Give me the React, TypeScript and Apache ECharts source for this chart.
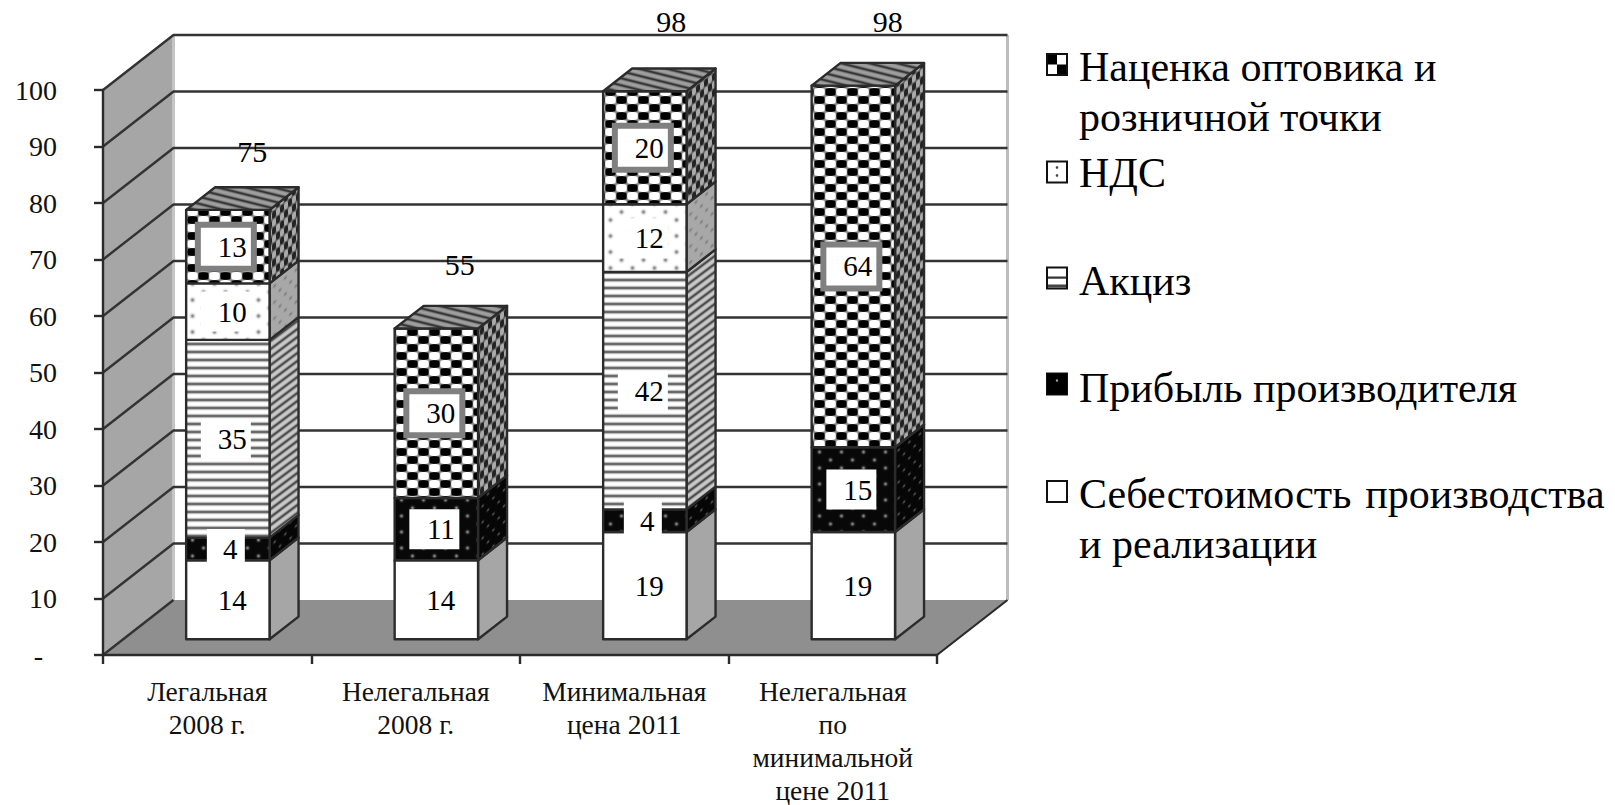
import React, { useEffect, useRef } from "react";
import * as echarts from "echarts";

const categories = ["Легальная\n2008 г.", "Нелегальная\n2008 г.", "Минимальная\nцена 2011", "Нелегальная\nпо\nминимальной\nцене 2011"];
const costValues = [14, 14, 19, 19];
const profitValues = [4, 11, 4, 15];
const exciseValues = [35, 0, 42, 0];
const vatValues = [10, 0, 12, 0];
const markupValues = [13, 30, 20, 64];
const totalLabels = [75, 55, 98, 98];
const yTicks = [0, 10, 20, 30, 40, 50, 60, 70, 80, 90, 100];
const legendMarkup = ["Наценка оптовика и", "розничной точки"];
const legendVat = ["НДС"];
const legendExcise = ["Акциз"];
const legendProfit = ["Прибыль производителя"];
const legendCost = ["Себестоимость \u200Aпроизводства", "и реализации"];

const SERIF = "'Liberation Serif'";
const DEPTH_X = 70.5, DEPTH_Y = 55;
const SIDE_X = 29, SIDE_Y = 22.7;
const BAR_DX = 20.6, BAR_DY = 15.7, BAR_W = 83.4;
const TOTAL_DX = [45, 44, 47, 55];
const INK = "#2b2b2b";

type Fn = (x: number, y: number) => number;
function tile(w: number, h: number, fn: Fn) {
  const c = document.createElement("canvas");
  c.width = w; c.height = h;
  const ctx = c.getContext("2d")!;
  const img = ctx.createImageData(w, h);
  for (let y = 0; y < h; y++) for (let x = 0; x < w; x++) {
    const g = fn(x + 0.5, y + 0.5);
    const i = (y * w + x) * 4;
    img.data[i] = img.data[i + 1] = img.data[i + 2] = Math.max(0, Math.min(255, g));
    img.data[i + 3] = 255;
  }
  ctx.putImageData(img, 0, 0);
  return c;
}
const TAU = Math.PI * 2;
const clamp01 = (v: number) => Math.max(0, Math.min(1, v));
const mod = (a: number, b: number) => ((a % b) + b) % b;
const K = 0.75;
function dotField(u: number, v: number, pu: number, pv: number, r: number) {
  const dist = (cx: number, cy: number) => {
    const dx = mod(u - cx + pu / 2, pu) - pu / 2, dy = mod(v - cy + pv / 2, pv) - pv / 2;
    return Math.exp(-(dx * dx + dy * dy) / (r * r));
  };
  return Math.max(dist(pu / 4, pv / 4), dist((3 * pu) / 4, (3 * pv) / 4));
}
const band = (y: number, p: number, w: number) => {
  const d = mod(y + p / 2, p) - p / 2;
  return Math.exp(-(d * d) / (w * w));
};
function buildPatterns() {
  const mk = (c: HTMLCanvasElement) => ({ image: c, repeat: "repeat", imageWidth: c.width, imageHeight: c.height });
  return {
    checkerFront: mk(tile(22, 16, (x, y) => 255 * clamp01(0.55 - 2.4 * Math.sin((TAU * x) / 22) * Math.sin((TAU * y) / 16)))),
    checkerSide: mk(tile(64, 16, (x, y) => 35 + 135 * clamp01(0.5 - 1.4 * Math.sin((TAU * x) / 8) * Math.sin((TAU * (y + K * x)) / 16)))),
    stripeFront: mk(tile(8, 8, (_x, y) => 255 - 165 * band(y, 8, 1.6))),
    stripeSide: mk(tile(32, 8, (x, y) => 205 - 135 * band(y + K * x, 8, 1.8))),
    dotsWhiteFront: mk(tile(22, 16, (x, y) => 255 - 125 * dotField(x, y, 22, 16, 2))),
    dotsGreySide: mk(tile(64, 16, (x, y) => 168 - 45 * dotField(x, y + K * x, 64 / 6, 16, 1.5))),
    dotsBlackFront: mk(tile(22, 16, (x, y) => 8 + 135 * dotField(x, y, 22, 16, 1.7))),
    dotsBlackSide: mk(tile(64, 16, (x, y) => 6 + 80 * dotField(x, y + K * x, 64 / 6, 16, 1.3))),
    topStripes: mk(tile(28, 7, (x, y) => 160 - 110 * band(y - 0.25 * x, 7, 1.5))),
  };
}

function stackOf(rows: number[][], idx: number) {
  return rows[idx].map((v, i) => {
    let start = 0;
    for (let k = 0; k < idx; k++) start += rows[k][i];
    const hasAbove = rows.slice(idx + 1).some((r) => r[i] > 0);
    return [i, start, start + v, v, hasAbove ? 0 : 1];
  }).filter((d) => d[3] > 0);
}

export default function App() {
  const ref = useRef<HTMLDivElement>(null);
  useEffect(() => {
    const chart = echarts.init(ref.current!, undefined, { renderer: "svg" });
    const P = buildPatterns();
    const rows = [costValues, profitValues, exciseValues, vatValues, markupValues];

    const segment = (front: any, side: any) => (params: any, api: any) => {
      const c0 = api.coord([api.value(0), api.value(1)]);
      const c1 = api.coord([api.value(0), api.value(2)]);
      const isTop = api.value(4) === 1;
      const x0 = c0[0] + BAR_DX - BAR_W / 2, x1 = x0 + BAR_W;
      const b = c0[1] - BAR_DY, t = c1[1] - BAR_DY;
      const line = { stroke: INK, lineWidth: 2.4, lineJoin: "round" };
      const children: any[] = [
        { type: "polygon", shape: { points: [[x1, t], [x1 + SIDE_X, t - SIDE_Y], [x1 + SIDE_X, b - SIDE_Y], [x1, b]] }, style: { fill: typeof side === "string" ? side : { ...side, x: x1, y: t }, ...line } },
        { type: "rect", shape: { x: x0, y: t, width: BAR_W, height: b - t }, style: { fill: typeof front === "string" ? front : { ...front, x: x0, y: t }, ...line } },
      ];
      if (isTop) {
        children.push({ type: "polygon", shape: { points: [[x0, t], [x1, t], [x1 + SIDE_X, t - SIDE_Y], [x0 + SIDE_X, t - SIDE_Y]] }, style: { fill: { ...P.topStripes, x: x0, y: t }, ...line } });
      }
      return { type: "group", children };
    };

    const makeSeries = (name: string, idx: number, front: any, side: any) => ({
      type: "custom", name, renderItem: segment(front, side), data: stackOf(rows, idx),
      encode: { x: 0, y: [1, 2] }, z: 3 + idx, silent: true,
    });

    const labelData = rows.flatMap((_, idx) => stackOf(rows, idx).map((d) => [d[0], d[1], d[2], d[3], idx === rows.length - 1 ? 1 : 0]));

    const marker = (y: number, inner: any[]) => ({
      type: "group", x: 1046, y,
      children: [
        { type: "rect", shape: { x: 1, y: 1, width: 20, height: 21 }, style: { fill: "#fff", stroke: "#111", lineWidth: 2 } },
        ...inner,
      ],
    });
    const legendText = (lines: string[], y: number) => lines.map((text, i) => ({
      type: "text", x: 1079, y: y + i * 49.5,
      style: { text, font: `42px ${SERIF}`, fill: "#000", verticalAlign: "middle" },
    }));

    chart.setOption({
      animation: false,
      backgroundColor: "#fff",
      grid: { left: 103, right: 678, top: 90, bottom: 150, containLabel: false, outerBoundsMode: "none" },
      xAxis: {
        type: "category", data: categories, z: 20,
        axisLine: { show: true, lineStyle: { color: INK, width: 2.4 } },
        axisTick: { show: true, length: 9, lineStyle: { color: INK, width: 2.4 }, alignWithLabel: false, interval: 0 },
        axisLabel: { fontFamily: SERIF, fontSize: 27.5, color: "#111", margin: 20, lineHeight: 33, interval: 0, hideOverlap: false },
      },
      yAxis: {
        type: "value", min: 0, max: 100, interval: 10, z: 20,
        axisLine: { show: true, lineStyle: { color: INK, width: 2.4 } },
        axisTick: { show: true, length: 9, lineStyle: { color: INK, width: 2.4 } },
        splitLine: { show: false },
        axisLabel: { fontFamily: SERIF, fontSize: 28, color: "#111", margin: 46, formatter: (v: number) => (v === 0 ? "-\u00A0\u00A0" : String(v)) },
      },
      graphic: {
        elements: [
          marker(53, [
            { type: "rect", shape: { x: 2, y: 2, width: 9, height: 9.5 }, style: { fill: "#000" } },
            { type: "rect", shape: { x: 11, y: 11.5, width: 9, height: 9.5 }, style: { fill: "#000" } },
          ]),
          ...legendText(legendMarkup, 67),
          marker(160.5, [
            { type: "circle", shape: { cx: 11, cy: 7, r: 1.3 }, style: { fill: "#444" } },
            { type: "circle", shape: { cx: 11, cy: 15, r: 1.3 }, style: { fill: "#444" } },
          ]),
          ...legendText(legendVat, 173),
          marker(266.5, [
            { type: "rect", shape: { x: 2, y: 10, width: 18, height: 2.2 }, style: { fill: "#333" } },
            { type: "rect", shape: { x: 2, y: 18, width: 18, height: 3 }, style: { fill: "#444" } },
          ]),
          ...legendText(legendExcise, 281),
          marker(372.5, [
            { type: "rect", shape: { x: 1, y: 1, width: 20, height: 21 }, style: { fill: "#000" } },
            { type: "circle", shape: { cx: 11, cy: 8, r: 1.2 }, style: { fill: "#aaa" } },
          ]),
          ...legendText(legendProfit, 388),
          marker(480, []),
          ...legendText(legendCost, 494),
        ],
      },
      series: [
        {
          type: "custom", name: "walls", silent: true, z: 1, data: [[0, 0]], encode: { x: 0, y: 1 },
          renderItem: (params: any, api: any) => {
            const cs = params.coordSys;
            const [, yb] = api.coord([0, 0]);
            const [, yt] = api.coord([0, 100]);
            const L = cs.x, R = cs.x + cs.width;
            return {
              type: "group", children: [
                { type: "polygon", shape: { points: [[L, yb], [L + DEPTH_X, yb - DEPTH_Y], [L + DEPTH_X, yt - DEPTH_Y], [L, yt]] }, style: { fill: "#a6a6a6" } },
                { type: "polygon", shape: { points: [[L, yb], [R, yb], [R + DEPTH_X, yb - DEPTH_Y], [L + DEPTH_X, yb - DEPTH_Y]] }, style: { fill: "#8f8f8f" } },
                { type: "line", shape: { x1: L + DEPTH_X, y1: yt - DEPTH_Y, x2: L + DEPTH_X, y2: yb - DEPTH_Y }, style: { stroke: "#c4c4c4", lineWidth: 3 } },
                { type: "line", shape: { x1: R + DEPTH_X, y1: yt - DEPTH_Y, x2: R + DEPTH_X, y2: yb - DEPTH_Y }, style: { stroke: "#bdbdbd", lineWidth: 3 } },
                { type: "line", shape: { x1: R, y1: yb, x2: R + DEPTH_X, y2: yb - DEPTH_Y }, style: { stroke: INK, lineWidth: 2.2 } },
              ],
            };
          },
        },
        {
          type: "custom", name: "grid", silent: true, z: 2, data: yTicks.map((v) => [0, v]), encode: { x: 0, y: 1 },
          renderItem: (params: any, api: any) => {
            const cs = params.coordSys;
            const v = api.value(1);
            const y = api.coord([0, v])[1];
            const L = cs.x, R = cs.x + cs.width;
            const style = { stroke: "#333", lineWidth: 2.4, fill: "none" };
            const pts = v === 0 ? [[L, y], [L + DEPTH_X, y - DEPTH_Y]] : [[L, y], [L + DEPTH_X, y - DEPTH_Y], [R + DEPTH_X, y - DEPTH_Y]];
            return { type: "polyline", shape: { points: pts }, style };
          },
        },
        makeSeries("Себестоимость производства и реализации", 0, "#ffffff", "#a6a6a6"),
        makeSeries("Прибыль производителя", 1, P.dotsBlackFront, P.dotsBlackSide),
        makeSeries("Акциз", 2, P.stripeFront, P.stripeSide),
        makeSeries("НДС", 3, P.dotsWhiteFront, P.dotsGreySide),
        makeSeries("Наценка оптовика и розничной точки", 4, P.checkerFront, P.checkerSide),
        {
          type: "custom", name: "labels", silent: true, z: 11, data: labelData, encode: { x: 0, y: [1, 2] },
          renderItem: (params: any, api: any) => {
            const c0 = api.coord([api.value(0), api.value(1)]);
            const c1 = api.coord([api.value(0), api.value(2)]);
            const val = api.value(3);
            const boxed = api.value(4) === 1;
            const cx = c0[0] + BAR_DX, cy = (c0[1] + c1[1]) / 2 - BAR_DY;
            const oneDigit = val < 10;
            const bw = oneDigit ? 38 : 50, bh = 40;
            const box = boxed
              ? { type: "rect", shape: { x: cx - 2 - 28, y: cy - 22, width: 56, height: 44 }, style: { fill: "#fff", stroke: "#808080", lineWidth: 6 } }
              : { type: "rect", shape: { x: cx - 2 - bw / 2, y: cy - bh / 2, width: bw, height: bh }, style: { fill: "#fff" } };
            return {
              type: "group", children: [box, {
                type: "text", style: { text: String(val), x: cx + (oneDigit ? 2.5 : 4.5), y: cy, align: "center", verticalAlign: "middle", font: `29px ${SERIF}`, fill: "#000" },
              }],
            };
          },
        },
        {
          type: "custom", name: "totals", silent: true, z: 12,
          data: totalLabels.map((v, i) => [i, v]), encode: { x: 0, y: 1 },
          renderItem: (params: any, api: any) => {
            const i = api.value(0);
            const v = api.value(1);
            const c = api.coord([i, v]);
            return { type: "text", style: { text: String(v), x: c[0] + TOTAL_DX[i], y: c[1] - 80, align: "center", verticalAlign: "middle", font: `30px ${SERIF}`, fill: "#000" } };
          },
        },
      ],
    });
    return () => chart.dispose();
  }, []);
  return <div ref={ref} style={{ position: "absolute", left: 0, top: 0, width: 1615, height: 805 }} />;
}
